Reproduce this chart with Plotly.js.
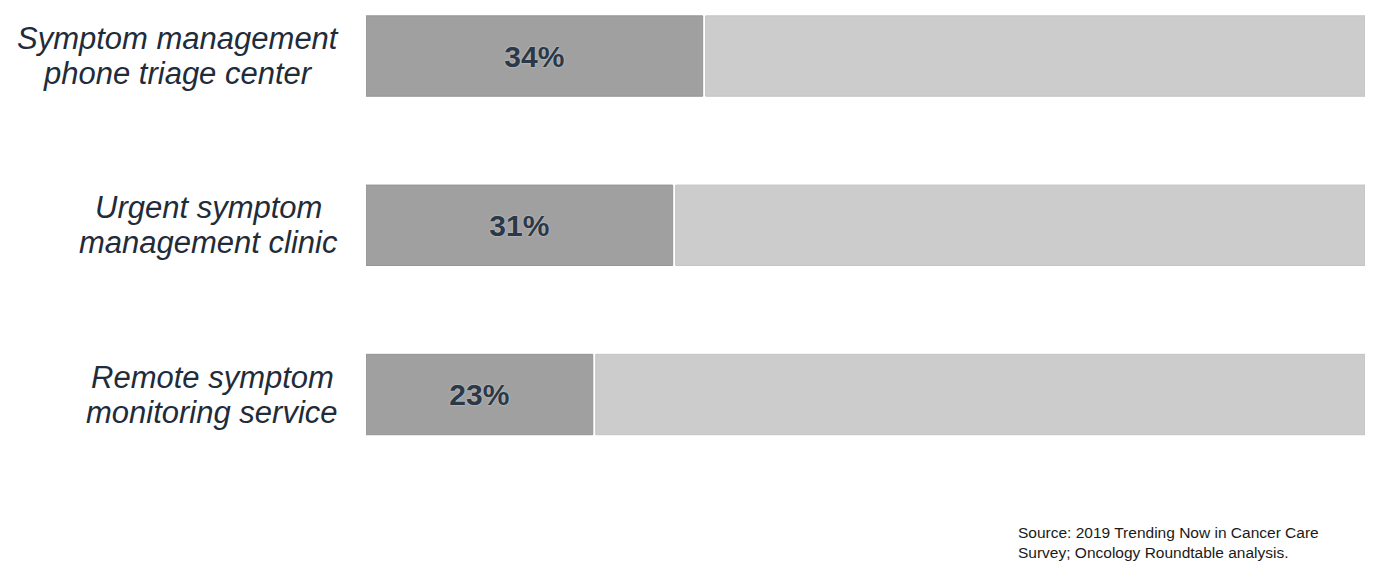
<!DOCTYPE html>
<html>
<head>
<meta charset="utf-8">
<script src="https://cdn.plot.ly/plotly-3.0.1.min.js"></script>
<style>html,body{margin:0;padding:0;background:#fff;}#chart{width:1400px;height:582px;}</style>
</head>
<body>
<div id="chart"></div>
<script>
const categoryLines = [
  ["Symptom management", "phone triage center"],
  ["Urgent symptom", "management clinic"],
  ["Remote symptom", "monitoring service"]
];
const values = [34, 31, 23];
const total = 100;
const sourceText = "Source: 2019 Trending Now in Cancer Care<br>Survey; Oncology Roundtable analysis.";

const gap = 0.3;
const idx = categoryLines.map((c, i) => i);
const darkLen = values.map(v => v - gap);
const remainder = values.map(v => total - v);

const traces = [
  {
    type: 'bar', orientation: 'h', y: idx, x: darkLen, base: values.map(() => 0),
    width: 0.475,
    marker: {color: '#a0a0a0', line: {color: '#959595', width: 1}},
    text: values.map(v => v + '%'), textposition: 'inside', insidetextanchor: 'middle',
    textfont: {family: 'Liberation Sans, Arial, sans-serif', size: 30, color: '#2b3847', weight: 'bold', shadow: '0px 0px 2px #d8d8d8'},
    hoverinfo: 'none'
  },
  {
    type: 'bar', orientation: 'h', y: idx, x: remainder, base: values,
    width: 0.475,
    marker: {color: '#cccccc', line: {color: '#c3c3c3', width: 1}},
    hoverinfo: 'none'
  }
];

const labelFontSize = 31;
const ctx = document.createElement('canvas').getContext('2d');
ctx.font = 'italic ' + labelFontSize + 'px "Liberation Sans", Arial, sans-serif';

const annotations = [];
categoryLines.forEach((lines, i) => {
  const maxW = Math.max(...lines.map(l => ctx.measureText(l).width));
  const shift = -(28 + maxW / 2);
  lines.forEach((line, j) => {
    annotations.push({
      xref: 'paper', yref: 'y', x: 0, y: i, xshift: shift, yshift: j === 0 ? 17.5 : -17.5,
      xanchor: 'center', yanchor: 'middle',
      text: line, align: 'center', showarrow: false,
      font: {family: 'Liberation Sans, Arial, sans-serif', size: labelFontSize, color: '#1f2c3a', style: 'italic'}
    });
  });
});
annotations.push({
  xref: 'paper', yref: 'paper', x: 0.6507, y: -0.088, xanchor: 'left', yanchor: 'top',
  text: sourceText, align: 'left', showarrow: false,
  font: {family: 'Liberation Sans, Arial, sans-serif', size: 15.5, color: '#1a1a1a'}
});

const layout = {
  width: 1400, height: 582,
  margin: {l: 366, r: 35, t: 0, b: 102},
  paper_bgcolor: '#ffffff', plot_bgcolor: '#ffffff',
  barmode: 'overlay',
  showlegend: false,
  xaxis: {range: [0, total], visible: false, fixedrange: true},
  yaxis: {range: [2.505, -0.331], visible: false, fixedrange: true},
  annotations: annotations
};

Plotly.newPlot('chart', traces, layout, {displayModeBar: false, staticPlot: true});
</script>
</body>
</html>
